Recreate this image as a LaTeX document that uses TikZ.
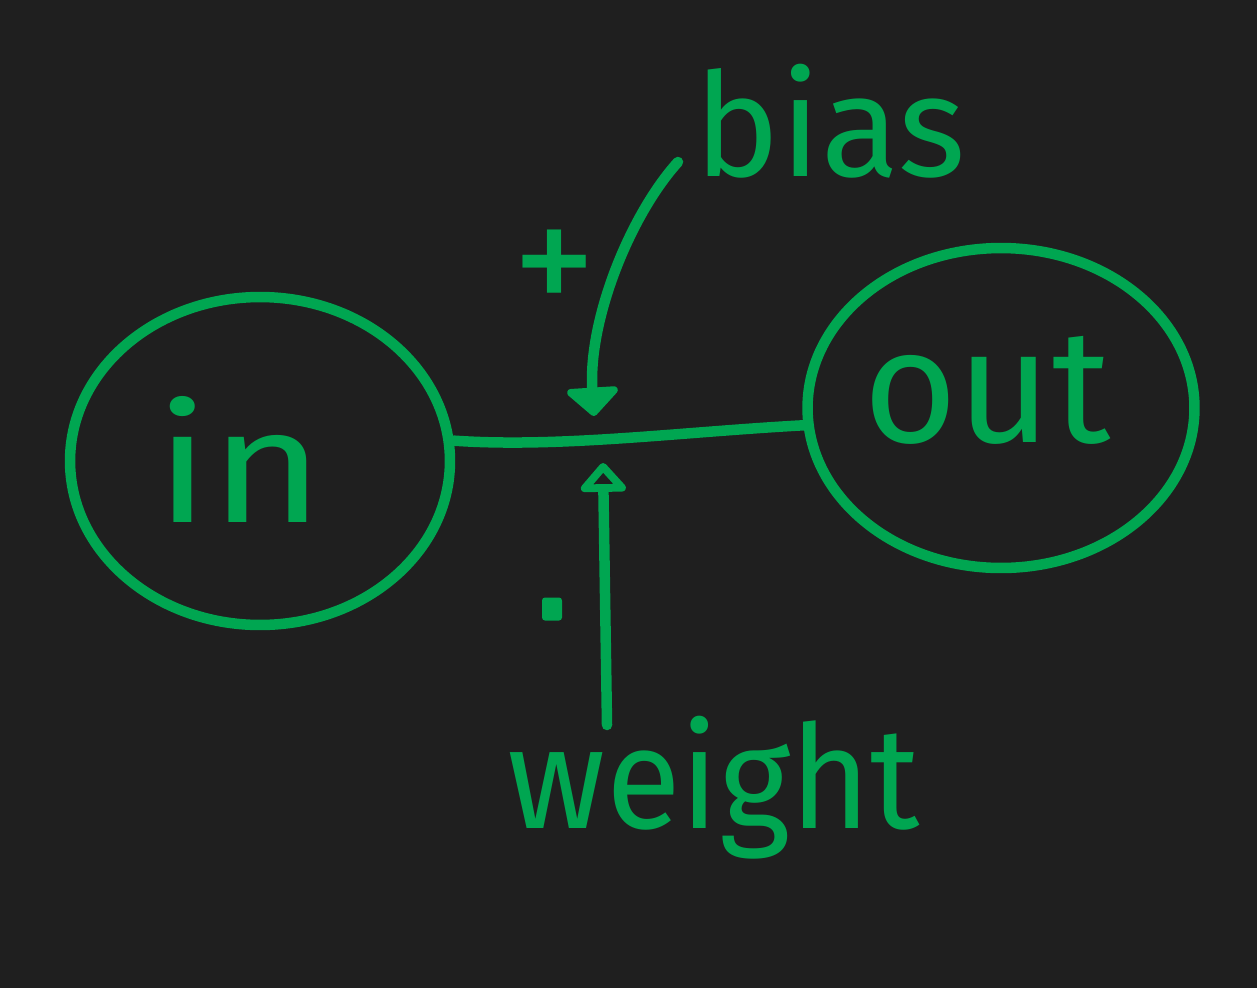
\documentclass[tikz,border=0pt]{standalone}
\usepackage{fontspec}
\setmainfont{Fira Sans}
\usetikzlibrary{shapes.geometric,arrows.meta}
\definecolor{bg}{HTML}{1F1F1F}
\definecolor{pen}{HTML}{00A651}
\begin{document}
\begin{tikzpicture}[x=0.02cm,y=-0.02cm,
  ink/.style={draw=pen,line width=0.21cm,line cap=round,line join=round},
  blob/.style={ink,ellipse,inner sep=0pt},
  word/.style={text=pen,inner sep=0pt,anchor=base,font=\fontsize{82}{82}\selectfont},
  bigword/.style={word,font=\fontsize{92}{92}\selectfont}]
\fill[bg] (0,0) rectangle (1257,988);
\useasboundingbox (0,0) rectangle (1257,988);
% nodes
\node[blob,minimum width=7.6cm,minimum height=6.56cm] (in) at (260,461) {};
\node[blob,minimum width=7.74cm,minimum height=6.4cm] (out) at (1001,408) {};
\node[bigword,xscale=1.2] (intext) at (240,522) {in};
\node[bigword] (outtext) at (987,442) {out};
\node[word] (bias) at (830,176) {bias};
\node[word,xscale=0.95] (weight) at (714,828) {weight};
\node[word,font=\fontsize{96}{96}\selectfont] (plus) at (555,317) {+};
\node[fill=pen,minimum width=0.4cm,minimum height=0.46cm,inner sep=0pt,rounded corners=0.06cm] (dot) at (552,609) {};
% connector coordinates
\coordinate (bstart) at (678,162);
\coordinate (wstart) at (607,725);
\coordinate (bt) at (594,416);
\coordinate (wt) at (603,463);
% edge
\draw[ink] (in.6) .. controls (560,448) and (680,432) .. (out.185);
% bias arrow
\draw[ink,-{Triangle[round,width=1.2cm,length=0.6cm]}] (bstart) .. controls (630,215) and (588,320) .. (bt);
% weight arrow
\draw[ink,-{Triangle[open,round,width=1.05cm,length=0.62cm]}] (wstart) -- (wt);
\end{tikzpicture}
\end{document}
